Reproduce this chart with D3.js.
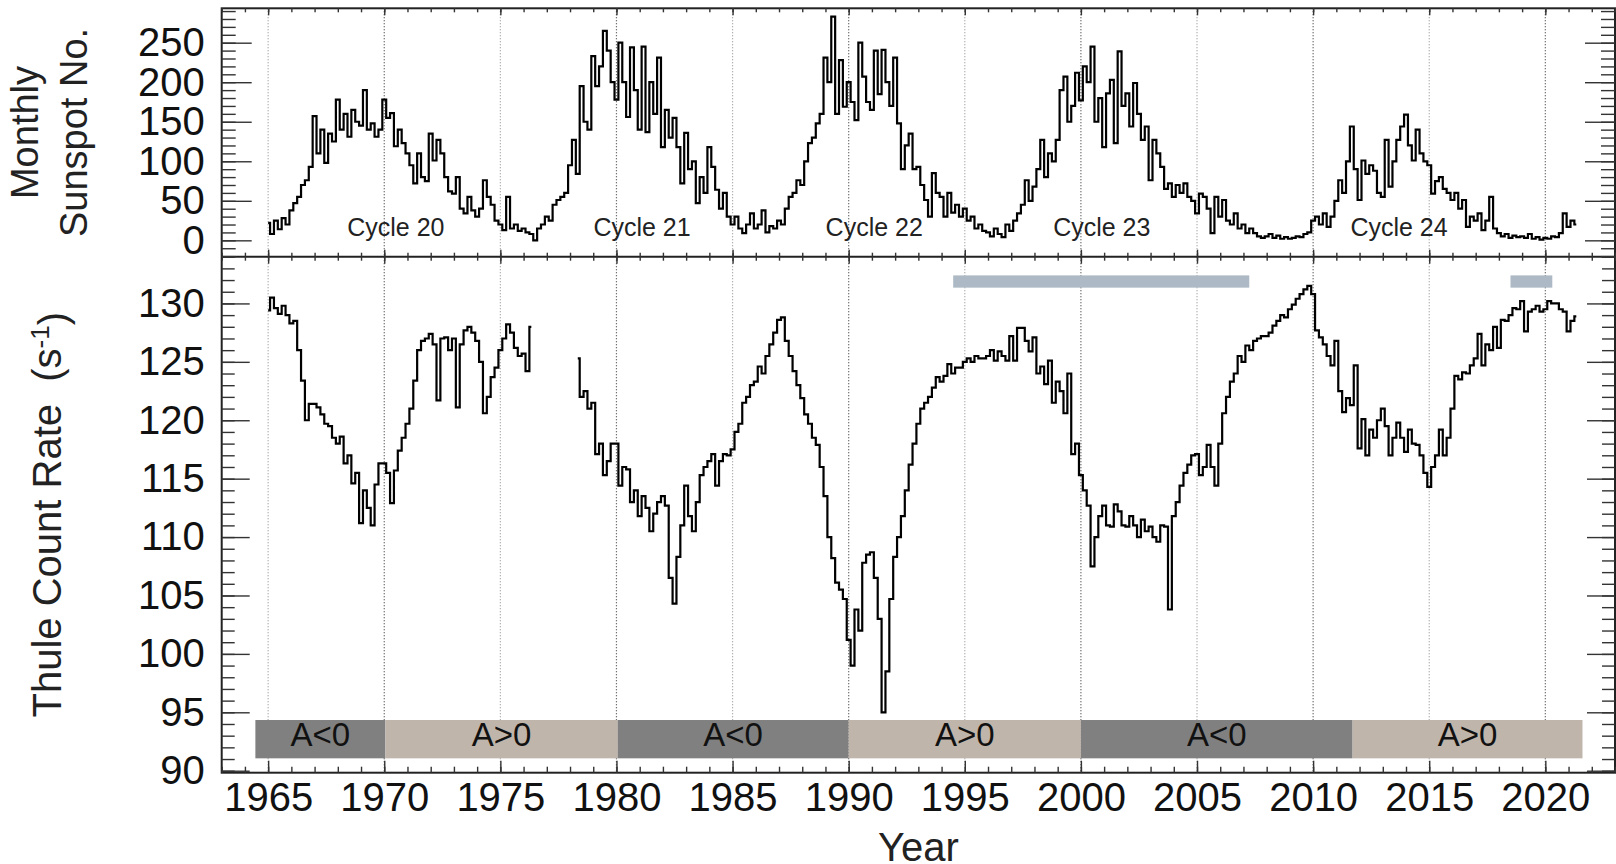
<!DOCTYPE html>
<html>
<head>
<meta charset="utf-8">
<style>

body{margin:0;background:#fff;font-family:"Liberation Sans",Arial,Helvetica,sans-serif;}
.frame{fill:none;stroke:#222;stroke-width:2;}
.grid{stroke:#999;stroke-width:1.2;stroke-dasharray:1,2;}
.grid.decade{stroke:#444;}
.trace{fill:none;stroke:#000;stroke-width:2.2;}
.axis path{display:none;}
.axis line{stroke:#333;stroke-width:1.4;}
.axis text{font-family:"Liberation Sans",Arial,sans-serif;font-size:40px;fill:#111;}
.title{font-size:38px;fill:#222;}
.cycle{font-size:25px;fill:#222;}
.pol{font-size:33px;fill:#111;}

</style>
</head>
<body>
<svg id="chart" width="1616" height="864"></svg>

<script src="https://cdn.jsdelivr.net/npm/d3@7/dist/d3.min.js"></script>
<script>

// ---- data (bimonthly steps, 6 values per year) ----
var stepsPerYear = 6;

var ssnStart = 1965;
var ssn = [
  22, 8, 25, 14, 28, 20,          // 1965
  38, 47, 55, 70, 76, 93,         // 1966
  157, 110, 140, 98, 135, 125,    // 1967
  178, 140, 160, 131, 165, 150,   // 1968
  145, 190, 140, 148, 131, 140,   // 1969
  178, 155, 161, 119, 140, 123,   // 1970
  110, 95, 72, 110, 80, 75,       // 1971
  135, 101, 127, 110, 80, 62,     // 1972
  59, 80, 40, 34, 55, 38,         // 1973
  30, 40, 76, 55, 45, 25,         // 1974
  20, 13, 55, 15, 20, 12,         // 1975
  15, 10, 8, 0, 15, 20,           // 1976
  30, 25, 45, 51, 55, 60,         // 1977
  95, 127, 84, 195, 150, 140,     // 1978
  233, 195, 220, 265, 240, 200,   // 1979
  178, 250, 200, 156, 244, 190,   // 1980
  140, 245, 137, 200, 160, 231,   // 1981
  118, 165, 130, 155, 118, 72,    // 1982
  136, 90, 100, 47, 80, 60,       // 1983
  118, 93, 64, 40, 60, 30,        // 1984
  20, 30, 15, 9, 20, 34,          // 1985
  15, 20, 38, 10, 18, 15,         // 1986
  25, 20, 40, 55, 60, 76,         // 1987
  70, 100, 123, 130, 148, 160,    // 1988
  231, 200, 283, 160, 228, 169,   // 1989
  200, 175, 152, 250, 207, 175,   // 1990
  165, 240, 185, 241, 200, 170,   // 1991
  231, 148, 90, 120, 135, 90,     // 1992
  93, 70, 51, 30, 85, 60,         // 1993
  55, 30, 60, 35, 45, 30,         // 1994
  40, 25, 30, 15, 20, 12,         // 1995
  10, 5, 15, 8, 4, 20,            // 1996
  12, 25, 34, 45, 76, 50,         // 1997
  68, 90, 127, 80, 110, 100,      // 1998
  127, 190, 207, 150, 170, 212,   // 1999
  177, 220, 200, 245, 150, 180,   // 2000
  118, 186, 203, 123, 239, 170,   // 2001
  186, 144, 199, 160, 127, 144,   // 2002
  76, 127, 110, 93, 65, 72,       // 2003
  55, 70, 60, 72, 55, 50,         // 2004
  34, 59, 55, 40, 9, 55,          // 2005
  30, 51, 25, 20, 34, 15,         // 2006
  20, 9, 15, 9, 5, 3,             // 2007
  5, 8, 3, 6, 2, 4,               // 2008
  2, 3, 5, 4, 8, 10,              // 2009
  25, 30, 20, 34, 17, 30,         // 2010
  50, 76, 60, 100, 144, 90,       // 2011
  51, 101, 84, 95, 88, 60,        // 2012
  55, 127, 68, 100, 127, 144,     // 2013
  159, 120, 101, 140, 110, 100,   // 2014
  95, 59, 75, 80, 65, 60,         // 2015
  51, 60, 40, 51, 17, 30,         // 2016
  25, 34, 13, 25, 55, 15,         // 2017
  9, 5, 8, 3, 6, 4,               // 2018
  5, 3, 8, 2, 4, 1,               // 2019
  3, 2, 5, 4, 9, 34,              // 2020
  17, 25, 20                      // 2021
];

var thuleStart = 1965;
var thule = [
  129.4, 130.5, 129.6, 129.1, 129.8, 129.0,   // 1965
  128.3, 128.5, 126.0, 123.4, 120.0, 121.4,   // 1966
  121.4, 121.1, 120.5, 119.7, 119.5, 118.5,   // 1967
  118.0, 118.6, 116.3, 117.0, 114.6, 115.5,   // 1968
  111.2, 114.0, 112.5, 111.0, 114.5, 116.3,   // 1969
  116.3, 115.5, 112.9, 115.7, 117.4, 118.5,   // 1970
  119.7, 121.0, 123.4, 126.0, 126.8, 127.0,   // 1971
  127.4, 126.5, 121.7, 127.0, 127.1, 126.0,   // 1972
  127.0, 121.1, 126.5, 127.7, 128.0, 127.5,   // 1973
  126.8, 125.0, 120.6, 122.0, 123.7, 124.5,   // 1974
  126.0, 127.0, 128.2, 127.5, 126.2, 125.5,   // 1975
  125.7, 124.2, 128.0, null, null, null,      // 1976
  null, null, null, null, null, null,         // 1977
  null, null, 125.3, 122.0, 122.5, 121.0,     // 1978
  121.5, 117.1, 118.0, 115.3, 116.5, 118.0,   // 1979
  118.0, 114.4, 116.0, 115.8, 113.0, 114.0,   // 1980
  111.8, 113.5, 112.5, 110.5, 112.0, 113.0,   // 1981
  113.5, 112.7, 106.5, 104.3, 108.3, 111.0,   // 1982
  114.4, 111.8, 110.5, 113.0, 115.3, 116.0,   // 1983
  116.5, 117.1, 114.4, 116.5, 117.1, 117.0,   // 1984
  117.5, 119.0, 119.7, 121.5, 122.0, 123.0,   // 1985
  123.3, 124.6, 124.0, 125.5, 126.5, 127.5,   // 1986
  128.6, 128.8, 126.8, 125.5, 124.2, 123.0,   // 1987
  121.9, 120.5, 119.7, 118.5, 117.9, 116.0,   // 1988
  113.5, 110.0, 108.2, 106.1, 105.5, 104.7,   // 1989
  101.2, 99.0, 103.8, 102.0, 107.8, 108.5,    // 1990
  108.7, 106.5, 103.0, 95.0, 98.5, 104.7,     // 1991
  108.3, 110.0, 111.8, 114.0, 116.2, 118.0,   // 1992
  119.7, 121.0, 121.5, 122.0, 122.8, 123.7,   // 1993
  123.3, 123.8, 124.8, 124.0, 124.5, 124.5,   // 1994
  125.0, 125.3, 125.0, 125.5, 125.3, 125.3,   // 1995
  125.5, 126.0, 125.1, 125.9, 125.5, 125.1,   // 1996
  127.2, 125.1, 127.9, 127.9, 126.8, 125.9,   // 1997
  127.1, 124.0, 124.6, 123.1, 125.1, 121.5,   // 1998
  123.3, 122.5, 120.6, 124.0, 117.1, 118.0,   // 1999
  115.3, 114.0, 112.7, 107.5, 110.0, 111.8,   // 2000
  112.7, 111.0, 110.9, 112.8, 112.2, 111.0,   // 2001
  110.9, 111.8, 111.0, 110.0, 111.5, 110.5,   // 2002
  110.9, 110.0, 109.6, 111.0, 110.9, 103.8,   // 2003
  111.8, 113.0, 114.4, 115.5, 116.2, 117.0,   // 2004
  117.1, 115.3, 116.0, 117.9, 116.0, 114.4,   // 2005
  118.0, 120.6, 122.0, 123.3, 124.0, 125.5,   // 2006
  125.0, 126.4, 126.0, 126.8, 127.0, 127.2,   // 2007
  127.2, 127.5, 128.1, 128.5, 129.0, 128.8,   // 2008
  129.5, 129.9, 130.4, 130.8, 131.2, 131.5,   // 2009
  130.8, 127.7, 127.1, 126.5, 125.5, 124.7,   // 2010
  126.8, 122.5, 120.7, 121.9, 121.3, 124.7,   // 2011
  117.6, 120.1, 117.0, 119.2, 118.5, 120.0,   // 2012
  121.0, 119.5, 117.0, 118.5, 119.8, 118.5,   // 2013
  117.3, 119.2, 118.0, 117.9, 117.0, 115.5,   // 2014
  114.3, 116.0, 117.0, 119.2, 117.0, 118.5,   // 2015
  121.0, 123.8, 123.5, 124.1, 124.0, 124.7,   // 2016
  125.3, 127.4, 124.7, 126.5, 126.0, 128.0,   // 2017
  126.2, 128.6, 128.5, 129.0, 129.6, 129.5,   // 2018
  130.2, 127.6, 129.3, 129.5, 129.8, 129.3,   // 2019
  129.5, 130.2, 130.0, 130.0, 129.5, 129.3,   // 2020
  127.6, 128.5, 128.9                          // 2021
];

var cycleNames = ["Cycle 20", "Cycle 21", "Cycle 22", "Cycle 23", "Cycle 24"];
var cycleYears = [1970.5, 1981.1, 1991.1, 2000.9, 2013.7];

var polarityLabels = ["A<0", "A>0", "A<0", "A>0", "A<0", "A>0"];
var polarityStart  = [1964.45, 1970.05, 1980.05, 1990.0, 2000.0, 2011.7];
var polarityEnd    = [1970.05, 1980.05, 1990.0, 2000.0, 2011.7, 2021.6];

var markStart = [1994.5, 2018.5];
var markEnd   = [2007.25, 2020.3];

var yearTicks = d3.range(1965, 2021, 5);


function buildChart(){

    var svg = d3.select("svg#chart");

    var xLeft = 221.7, xRight = 1615;
    var topY = 8.3, midY = 256.7, botY = 772.7;

    var x = d3.scaleLinear().domain([1963, 2023]).range([xLeft, xRight]);
    var ySsn = d3.scaleLinear().domain([-20.7, 293.5]).range([midY, topY]);
    var yThule = d3.scaleLinear().domain([89.83, 134]).range([botY, midY]);

    // dotted year grid
    svg.selectAll(".grid")
        .data(yearTicks)
        .enter()
        .append("line")
        .attr("class", function(d){ return d % 10 == 0 ? "grid decade" : "grid"; })
        .attr("x1", function(d){ return x(d); })
        .attr("x2", function(d){ return x(d); })
        .attr("y1", topY)
        .attr("y2", botY);

    // magnetic polarity bars
    var pol = svg.selectAll(".polbar")
        .data(polarityLabels)
        .enter()
        .append("g");
    pol.append("rect")
        .attr("x", function(d, i){ return x(polarityStart[i]); })
        .attr("width", function(d, i){ return x(polarityEnd[i]) - x(polarityStart[i]); })
        .attr("y", yThule(94.34))
        .attr("height", yThule(91.06) - yThule(94.34))
        .attr("fill", function(d){ return d == "A<0" ? "#808080" : "#c0b5aa"; });
    pol.append("text")
        .attr("class", "pol")
        .attr("x", function(d, i){ return x((polarityStart[i] + polarityEnd[i]) / 2); })
        .attr("y", yThule(92.1))
        .attr("text-anchor", "middle")
        .text(function(d){ return d; });

    // light bars near the top of the lower panel
    svg.selectAll(".mark")
        .data(markStart)
        .enter()
        .append("rect")
        .attr("x", function(d){ return x(d); })
        .attr("width", function(d, i){ return x(markEnd[i]) - x(d); })
        .attr("y", yThule(132.4))
        .attr("height", yThule(131.35) - yThule(132.4))
        .attr("fill", "#adbac5");

    // traces
    var ssnLine = d3.line()
        .x(function(d, i){ return x(ssnStart + i / stepsPerYear); })
        .y(function(d){ return ySsn(d); })
        .curve(d3.curveStep);

    svg.append("path")
        .datum(ssn)
        .attr("class", "trace")
        .attr("d", ssnLine);

    var thuleLine = d3.line()
        .defined(function(d){ return d != null; })
        .x(function(d, i){ return x(thuleStart + i / stepsPerYear); })
        .y(function(d){ return yThule(d); })
        .curve(d3.curveStep);

    svg.append("path")
        .datum(thule)
        .attr("class", "trace")
        .attr("d", thuleLine);

    // frame
    svg.append("rect")
        .attr("class", "frame")
        .attr("x", xLeft).attr("y", topY)
        .attr("width", xRight - xLeft).attr("height", botY - topY);
    svg.append("line")
        .attr("class", "frame")
        .attr("x1", xLeft).attr("x2", xRight)
        .attr("y1", midY).attr("y2", midY);

    // y ticks, both sides, both panels
    function yTicks(scale, minor, major, minLen, majLen){
        svg.append("g").attr("class", "axis")
            .attr("transform", "translate(" + xLeft + ",0)")
            .call(d3.axisRight(scale).tickValues(minor).tickSize(minLen).tickFormat(""));
        svg.append("g").attr("class", "axis")
            .attr("transform", "translate(" + xLeft + ",0)")
            .call(d3.axisRight(scale).tickValues(major).tickSize(majLen).tickFormat(""));
        svg.append("g").attr("class", "axis")
            .attr("transform", "translate(" + xRight + ",0)")
            .call(d3.axisLeft(scale).tickValues(minor).tickSize(minLen).tickFormat(""));
        svg.append("g").attr("class", "axis")
            .attr("transform", "translate(" + xRight + ",0)")
            .call(d3.axisLeft(scale).tickValues(major).tickSize(majLen).tickFormat(""));
        svg.append("g").attr("class", "axis")
            .attr("transform", "translate(" + xLeft + ",0)")
            .call(d3.axisLeft(scale).tickValues(major).tickSize(0).tickPadding(17));
    }
    yTicks(ySsn, d3.range(-20, 291, 10), d3.range(0, 251, 50), 14, 30);
    yTicks(yThule, d3.range(90, 135, 1), d3.range(90, 131, 5), 13, 28);

    // x ticks on the top, middle and bottom lines
    var minorYears = d3.range(1963, 2024, 1);
    function xTicks(y, axisFn, minLen, majLen){
        svg.append("g").attr("class", "axis")
            .attr("transform", "translate(0," + y + ")")
            .call(axisFn(x).tickValues(minorYears).tickSize(minLen).tickFormat(""));
        svg.append("g").attr("class", "axis")
            .attr("transform", "translate(0," + y + ")")
            .call(axisFn(x).tickValues(yearTicks).tickSize(majLen).tickFormat(""));
    }
    xTicks(topY, d3.axisBottom, 4, 7);
    xTicks(midY, d3.axisBottom, 4, 7);
    xTicks(midY, d3.axisTop, 4, 7);
    xTicks(botY, d3.axisTop, 6, 12);

    svg.append("g").attr("class", "axis")
        .attr("transform", "translate(0," + botY + ")")
        .call(d3.axisBottom(x).tickValues(yearTicks).tickSize(0).tickPadding(10).tickFormat(d3.format("d")));

    // cycle labels
    svg.selectAll(".cycle")
        .data(cycleNames)
        .enter()
        .append("text")
        .attr("class", "cycle")
        .attr("x", function(d, i){ return x(cycleYears[i]); })
        .attr("y", ySsn(5))
        .attr("text-anchor", "middle")
        .text(function(d){ return d; });

    // axis titles
    var t1 = svg.append("text").attr("class", "title")
        .attr("text-anchor", "middle")
        .attr("transform", "translate(38," + ((topY + midY) / 2) + ") rotate(-90)")
        .text("Monthly");
    svg.append("text").attr("class", "title")
        .attr("text-anchor", "middle")
        .attr("transform", "translate(87," + ((topY + midY) / 2) + ") rotate(-90)")
        .text("Sunspot No.");

    var t2 = svg.append("text").attr("class", "title")
        .style("font-size", "40px")
        .attr("text-anchor", "middle")
        .attr("transform", "translate(61," + ((midY + botY) / 2) + ") rotate(-90)");
    t2.append("tspan").text("Thule Count Rate\u00a0\u00a0(s");
    t2.append("tspan").attr("dy", "-0.45em").style("font-size", "26px").text("-1");
    t2.append("tspan").attr("dy", "0.45em").text(")");

    svg.append("text").attr("class", "title")
        .style("font-size", "40px")
        .attr("text-anchor", "middle")
        .attr("x", (xLeft + xRight) / 2)
        .attr("y", 861)
        .text("Year");
}

buildChart();

</script>
</body>
</html>
